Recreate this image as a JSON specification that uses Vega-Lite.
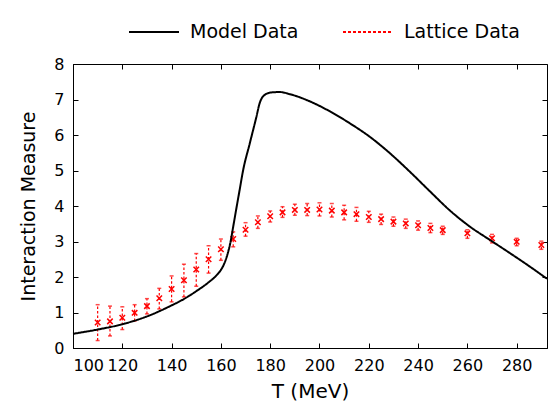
{
  "$schema": "https://vega.github.io/schema/vega-lite/v6.json",
  "autosize": "none",
  "width": 474,
  "height": 284,
  "padding": {"left": 73, "top": 64, "right": 1, "bottom": 57},
  "config": {
    "font": "DejaVu Sans",
    "view": {"stroke": "#000", "strokeWidth": 1},
    "axis": {"grid": false, "domainColor": "#000", "tickColor": "#000", "labelColor": "#000", "titleColor": "#000", "labelFont": "DejaVu Sans", "titleFont": "DejaVu Sans", "labelFontSize": 16, "titleFontSize": 20, "titleFontWeight": "normal", "tickSize": -5}
  },
  "datasets": {
    "model": [
      {"T": 100, "v": 0.4}, {"T": 110, "v": 0.52}, {"T": 120, "v": 0.67}, {"T": 130, "v": 0.89},
      {"T": 140, "v": 1.2}, {"T": 145, "v": 1.38}, {"T": 150, "v": 1.6}, {"T": 155, "v": 1.85},
      {"T": 158, "v": 2.03}, {"T": 160, "v": 2.2}, {"T": 161.5, "v": 2.4}, {"T": 163, "v": 2.72},
      {"T": 164, "v": 3.02}, {"T": 165, "v": 3.42}, {"T": 166.5, "v": 4.02}, {"T": 167.6, "v": 4.45},
      {"T": 169, "v": 5.0}, {"T": 171.7, "v": 5.76}, {"T": 174.4, "v": 6.51}, {"T": 175.7, "v": 6.89},
      {"T": 177.8, "v": 7.13}, {"T": 180.5, "v": 7.2}, {"T": 183.9, "v": 7.21}, {"T": 188, "v": 7.15},
      {"T": 196, "v": 6.95}, {"T": 204.1, "v": 6.67}, {"T": 212.3, "v": 6.33}, {"T": 220.4, "v": 5.95},
      {"T": 228.5, "v": 5.49}, {"T": 236.6, "v": 4.97}, {"T": 244.7, "v": 4.42}, {"T": 252.8, "v": 3.88},
      {"T": 261, "v": 3.42}, {"T": 269, "v": 3.05}, {"T": 277.1, "v": 2.68}, {"T": 285.2, "v": 2.3},
      {"T": 292.3, "v": 1.95}
    ],
    "lattice": [
      {"T": 110, "v": 0.72, "lo": 0.21, "hi": 1.22},
      {"T": 115, "v": 0.75, "lo": 0.34, "hi": 1.18},
      {"T": 120, "v": 0.85, "lo": 0.52, "hi": 1.16},
      {"T": 125, "v": 0.99, "lo": 0.76, "hi": 1.22},
      {"T": 130, "v": 1.18, "lo": 0.96, "hi": 1.39},
      {"T": 135, "v": 1.4, "lo": 1.1, "hi": 1.68},
      {"T": 140, "v": 1.66, "lo": 1.3, "hi": 2.03},
      {"T": 145, "v": 1.91, "lo": 1.44, "hi": 2.36},
      {"T": 150, "v": 2.21, "lo": 1.74, "hi": 2.66},
      {"T": 155, "v": 2.5, "lo": 2.11, "hi": 2.88},
      {"T": 160, "v": 2.78, "lo": 2.47, "hi": 3.07},
      {"T": 165, "v": 3.07, "lo": 2.85, "hi": 3.27},
      {"T": 170, "v": 3.33, "lo": 3.15, "hi": 3.53},
      {"T": 175, "v": 3.54, "lo": 3.37, "hi": 3.72},
      {"T": 180, "v": 3.71, "lo": 3.55, "hi": 3.86},
      {"T": 185, "v": 3.82, "lo": 3.68, "hi": 3.98},
      {"T": 190, "v": 3.89, "lo": 3.74, "hi": 4.05},
      {"T": 195, "v": 3.89, "lo": 3.73, "hi": 4.07},
      {"T": 200, "v": 3.9, "lo": 3.72, "hi": 4.09},
      {"T": 205, "v": 3.87, "lo": 3.69, "hi": 4.07},
      {"T": 210, "v": 3.82, "lo": 3.61, "hi": 4.02},
      {"T": 215, "v": 3.77, "lo": 3.57, "hi": 3.96},
      {"T": 220, "v": 3.69, "lo": 3.54, "hi": 3.85},
      {"T": 225, "v": 3.63, "lo": 3.48, "hi": 3.77},
      {"T": 230, "v": 3.56, "lo": 3.43, "hi": 3.69},
      {"T": 235, "v": 3.51, "lo": 3.37, "hi": 3.63},
      {"T": 240, "v": 3.46, "lo": 3.32, "hi": 3.58},
      {"T": 245, "v": 3.38, "lo": 3.25, "hi": 3.51},
      {"T": 250, "v": 3.32, "lo": 3.2, "hi": 3.43},
      {"T": 260, "v": 3.23, "lo": 3.09, "hi": 3.33},
      {"T": 270, "v": 3.09, "lo": 2.96, "hi": 3.2},
      {"T": 280, "v": 2.99, "lo": 2.88, "hi": 3.09},
      {"T": 290, "v": 2.9, "lo": 2.78, "hi": 3.01}
    ]
  },
  "layer": [
    {
      "data": {"name": "lattice"},
      "mark": {"type": "rule", "color": "#ff0000", "strokeWidth": 1.2, "strokeDash": [2.5, 2]},
      "encoding": {
        "x": {"field": "T", "type": "quantitative", "scale": {"domain": [100, 292.3], "nice": false, "zero": false},
          "axis": {"orient": "top", "labels": false, "title": null, "values": [100, 120, 140, 160, 180, 200, 220, 240, 260, 280], "domain": false}},
        "y": {"field": "lo", "type": "quantitative", "scale": {"domain": [0, 8], "nice": false},
          "axis": {"orient": "right", "labels": false, "title": null, "values": [0, 1, 2, 3, 4, 5, 6, 7, 8], "domain": false}},
        "y2": {"field": "hi"}
      }
    },
    {
      "data": {"name": "lattice"},
      "mark": {"type": "tick", "color": "#ff0000", "orient": "horizontal", "size": 4, "thickness": 1.5},
      "encoding": {
        "x": {"field": "T", "type": "quantitative", "axis": null},
        "y": {"field": "lo", "type": "quantitative", "axis": null}
      }
    },
    {
      "data": {"name": "lattice"},
      "mark": {"type": "tick", "color": "#ff0000", "orient": "horizontal", "size": 4, "thickness": 1.5},
      "encoding": {
        "x": {"field": "T", "type": "quantitative", "axis": null},
        "y": {"field": "hi", "type": "quantitative", "axis": null}
      }
    },
    {
      "data": {"name": "lattice"},
      "mark": {"type": "point", "shape": "M-1,-1L1,1M1,-1L-1,1", "filled": false, "color": "#ff0000", "size": 30, "strokeWidth": 1.5, "opacity": 1},
      "encoding": {
        "x": {"field": "T", "type": "quantitative", "axis": null},
        "y": {"field": "v", "type": "quantitative", "axis": null}
      }
    },
    {
      "data": {"name": "model"},
      "mark": {"type": "line", "strokeWidth": 2, "interpolate": "monotone"},
      "encoding": {
        "x": {"field": "T", "type": "quantitative", "title": "T (MeV)",
          "axis": {"values": [100, 120, 140, 160, 180, 200, 220, 240, 260, 280], "labelPadding": 14, "titlePadding": 8}},
        "y": {"field": "v", "type": "quantitative", "title": "Interaction Measure",
          "axis": {"values": [0, 1, 2, 3, 4, 5, 6, 7, 8], "labelPadding": 14, "titlePadding": 15, "titleFontSize": 19}},
        "color": {"datum": "Model Data", "type": "nominal",
          "scale": {"domain": ["Model Data", "Lattice Data"], "range": ["#000000", "#ff0000"]},
          "legend": {"title": null, "orient": "none", "direction": "horizontal", "legendX": 55, "legendY": -58,
            "symbolType": "stroke", "symbolSize": 2500, "symbolStrokeWidth": 2, "labelFontSize": 19, "labelFont": "DejaVu Sans", "labelColor": "#000", "columnPadding": 40, "labelOffset": 10}},
        "strokeDash": {"datum": "Model Data", "type": "nominal",
          "scale": {"domain": ["Model Data", "Lattice Data"], "range": [[1, 0], [3, 2]]},
          "legend": null}
      }
    }
  ],
  "resolve": {"axis": {"x": "independent", "y": "independent"}}
}
